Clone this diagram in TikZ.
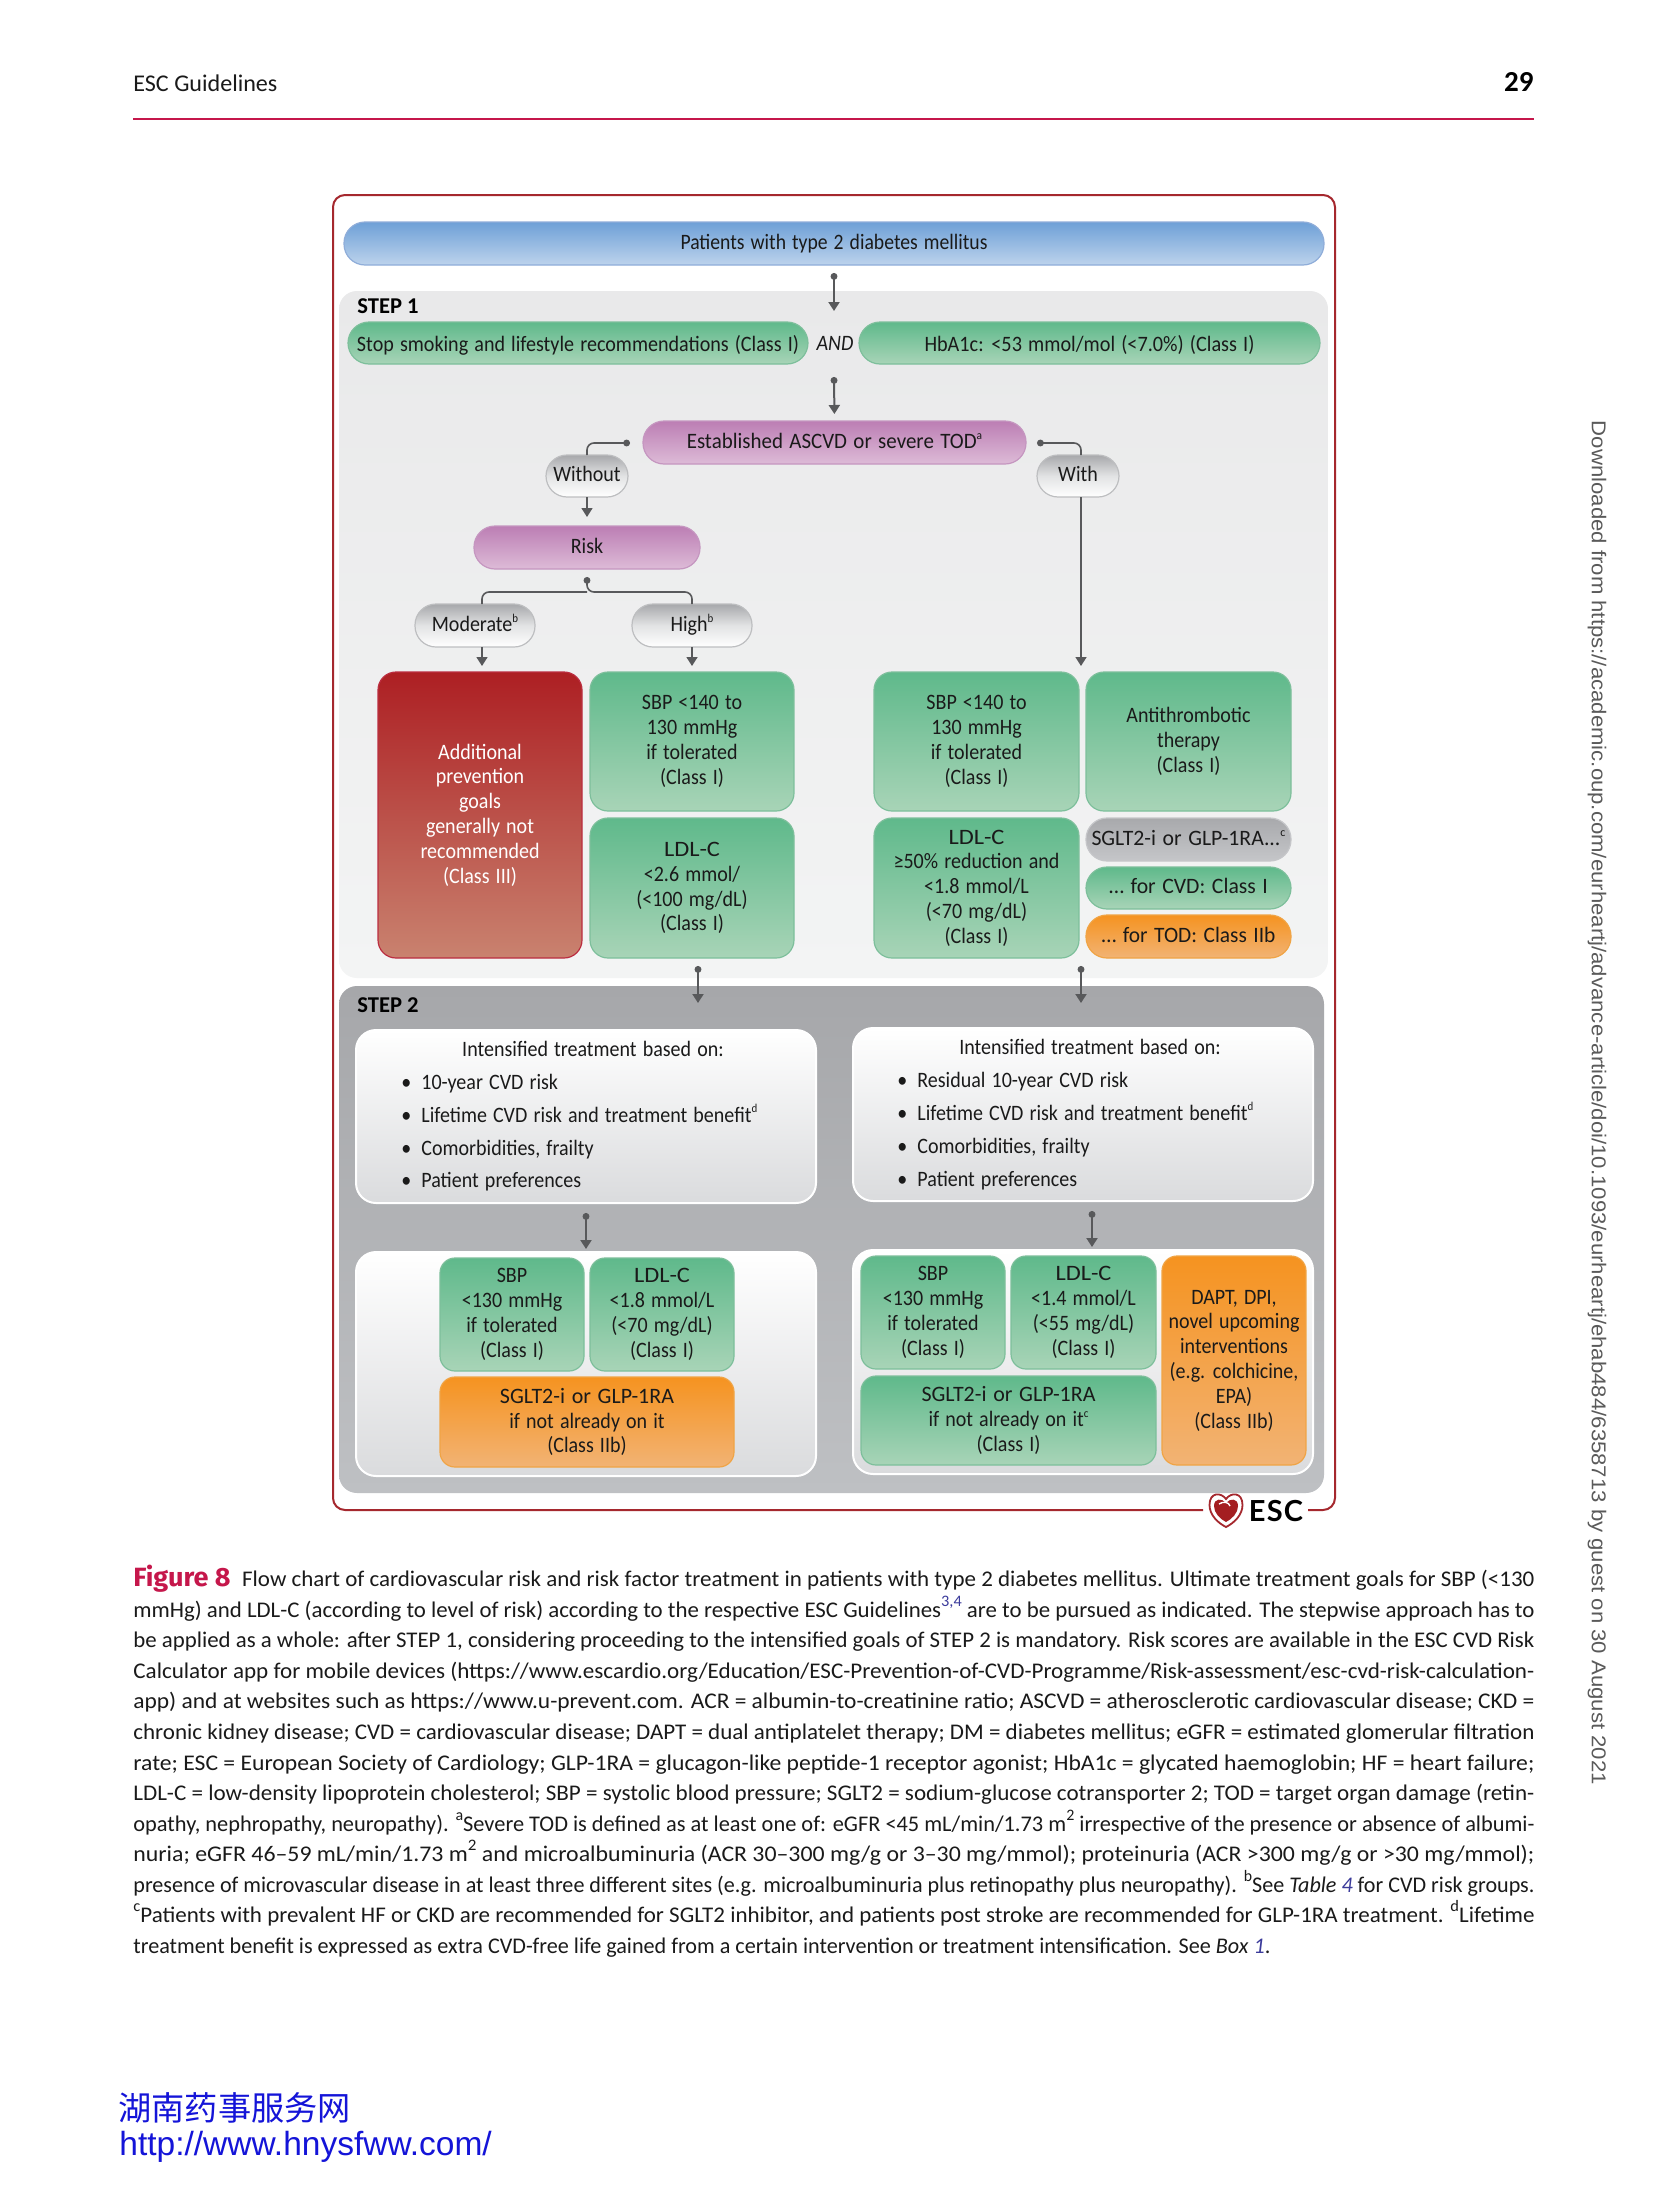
\documentclass[tikz,border=0pt]{standalone}
\usepackage{fontspec}
\usepackage{graphicx}
\usetikzlibrary{arrows.meta,calc}
\setmainfont{Carlito}
\newfontfamily\diaface{Carlito}[FakeStretch=0.91,WordSpace=1.35]
\newfontfamily\cjkfont{Noto Sans CJK SC}
\newfontfamily\arialfont{Liberation Sans}
\newfontfamily\figfont{Fira Sans}
\newfontfamily\escfont{Lato}
\definecolor{cgrey}{HTML}{58595B}
\definecolor{frame}{HTML}{A5282E}
\definecolor{crimson}{HTML}{C5174B}
\definecolor{ink}{HTML}{1A1A1A}
\definecolor{refblue}{HTML}{3B3B9B}
\definecolor{HTMLg1}{HTML}{5FB98B}
\definecolor{HTMLg2}{HTML}{A8D4B7}
\definecolor{HTMLg3}{HTML}{7DBF9B}
\definecolor{HTMLo1}{HTML}{F59320}
\definecolor{HTMLo2}{HTML}{F2B374}
\definecolor{HTMLo3}{HTML}{F0A445}
\definecolor{HTMLp1}{HTML}{BC7EB4}
\definecolor{HTMLp2}{HTML}{DDBBD7}
\definecolor{HTMLp3}{HTML}{C596C0}
\definecolor{HTMLb1}{HTML}{6EA0D7}
\definecolor{HTMLb2}{HTML}{BDD3EC}
\definecolor{HTMLb3}{HTML}{8FADD9}
\definecolor{HTMLr1}{HTML}{AD1F23}
\definecolor{HTMLr2}{HTML}{C9826F}
\definecolor{HTMLr3}{HTML}{BB2D40}
\definecolor{HTMLs1}{HTML}{A8A9AC}
\definecolor{HTMLs2}{HTML}{C5C6C9}
\definecolor{HTMLc1}{HTML}{A7A8AB}
\definecolor{HTMLc2}{HTML}{E2E3E4}
\definecolor{HTMLc3}{HTML}{BDBEC0}
\definecolor{HTMLq1}{HTML}{E9E9EA}
\definecolor{HTMLq2}{HTML}{F3F4F4}
\definecolor{HTMLt1}{HTML}{A6A7AA}
\definecolor{HTMLt2}{HTML}{BEC0C3}
\definecolor{HTMLw1}{HTML}{DADBDD}
\definecolor{HTMLu1}{HTML}{1414D8}
\definecolor{HTMLv1}{HTML}{5A5A5A}
\newcommand{\diafont}{\diaface\fontsize{11}{12.4}\selectfont}
\newcommand{\capfont}{\fontsize{11.2}{15}\selectfont}
\newcommand{\sps}[1]{\raisebox{0.42em}{\fontsize{6}{6}\selectfont #1}}
\newcommand{\csp}[1]{\raisebox{0.46em}{\fontsize{8}{8}\selectfont #1}}
\newcommand{\fitw}[2]{\resizebox{#1pt}{\height}{#2}}
\newcommand{\dbox}[7]{\node[#2, minimum width={(#5-#3)*0.5pt}, minimum height={(#6-#4)*0.5pt}] (#1) at ({(#3+#5)/2},{(#4+#6)/2}) {#7};}
\newcommand{\capl}[4]{\node[capline] (#1) at (133,#2) {\resizebox{#3pt}{\height}{#4}};}
\tikzset{
  dia/.style={shape=rectangle, inner sep=0pt, outer sep=0pt, align=center, font=\diafont, text=ink, line width=0.6pt},
  pill/.style={dia, rounded corners=10.5pt, text height=8pt, text depth=2.2pt},
  rbox/.style={dia, rounded corners=9pt},
  sbox/.style={dia, rounded corners=7.5pt},
  fgreen/.style={top color=HTMLg1, bottom color=HTMLg2, draw=HTMLg3},
  forange/.style={top color=HTMLo1, bottom color=HTMLo2, draw=HTMLo3},
  fpink/.style={top color=HTMLp1, bottom color=HTMLp2, draw=HTMLp3},
  fblue/.style={top color=HTMLb1, bottom color=HTMLb2, draw=HTMLb3},
  fred/.style={top color=HTMLr1, bottom color=HTMLr2, draw=HTMLr3, text=white},
  fgrey/.style={top color=HTMLs1, bottom color=HTMLs2, draw=HTMLs2},
  choice/.style={top color=HTMLc1, bottom color=white, middle color=HTMLc2, draw=HTMLc3},
  panelone/.style={rbox, top color=HTMLq1, bottom color=HTMLq2},
  paneltwo/.style={rbox, top color=HTMLt1, bottom color=HTMLt2},
  whitebox/.style={dia, rounded corners=10pt, top color=white, bottom color=HTMLw1, draw=white, line width=1pt},
  steplabel/.style={inner sep=0pt, anchor=base west, font=\fontsize{11.3}{13}\selectfont\bfseries, text=black},
  listtext/.style={inner sep=0pt, anchor=base west, font=\diafont, text=ink},
  listhead/.style={inner sep=0pt, anchor=base, font=\diafont, text=ink},
  conn/.style={draw=cgrey, line width=1pt, {Circle[length=3.4pt]}-{Triangle[width=5.5pt,length=4.5pt]}},
  dotline/.style={draw=cgrey, line width=0.8pt, rounded corners=3.5pt, {Circle[length=3.4pt]}-},
  plainline/.style={draw=cgrey, line width=0.8pt, rounded corners=3.5pt},
  arrowonly/.style={draw=cgrey, line width=0.8pt, -{Triangle[width=5.5pt,length=4.5pt]}},
  capline/.style={inner sep=0pt, anchor=base west, font=\capfont, text=ink},
}
\begin{document}
\begin{tikzpicture}[x=0.5pt,y=-0.5pt]
\useasboundingbox (0,0) rectangle (1654,2205);
\fill[white] (0,0) rectangle (1654,2205);

% page header
\node[inner sep=0pt, anchor=base west, font=\fontsize{12}{14}\selectfont, text=ink] (hdrl) at (133,92) {\resizebox{72pt}{\height}{ESC Guidelines}};
\node[inner sep=0pt, anchor=base east, font=\fontsize{14.5}{16}\selectfont\bfseries, text=black] (hdrr) at (1534,92) {29};
\draw[crimson, line width=1pt] (133,119) -- (1534,119);

% red frame with gap for the logo
\draw[frame, line width=1pt, rounded corners=6pt] (1203,1510) -- (333,1510) -- (333,195) -- (1335,195) -- (1335,1510) -- (1308,1510);

% panels
\dbox{panelA}{panelone}{339}{291}{1328}{978}{}
\dbox{panelB}{paneltwo}{339}{986}{1324}{1493}{}

% top bar
\dbox{patients}{pill,fblue}{344}{222}{1324}{265}{\fitw{153.5}{Patients with type 2 diabetes mellitus}}

\node[steplabel] (stepone) at (357,313) {STEP 1};
\dbox{stop}{pill,fgreen,text height=10.5pt}{348}{322}{808}{364}{\fitw{221}{Stop smoking and lifestyle recommendations (Class I)}}
\node[inner sep=0pt, font=\diafont\itshape, text=ink] (andn) at (835,343) {AND};
\dbox{hba}{pill,fgreen,text height=10.5pt}{859}{322}{1320}{364}{\fitw{165}{HbA1c: <53 mmol/mol (<7.0\%) (Class I)}}

\dbox{est}{pill,fpink}{643}{421}{1026}{464}{\fitw{147.7}{Established ASCVD or severe TOD\sps{a}}}
\dbox{without}{pill,choice}{546}{455}{628}{497}{Without}
\dbox{withn}{pill,choice}{1037}{455}{1119}{497}{With}
\dbox{risk}{pill,fpink}{474}{526}{700}{569}{Risk}
\dbox{moderate}{pill,choice}{415}{604}{535}{647}{Moderate\sps{b}}
\dbox{high}{pill,choice}{632}{604}{752}{647}{High\sps{b}}

\dbox{addit}{rbox,fred}{378}{672}{582}{958}{Additional\\prevention\\goals\\generally not\\recommended\\(Class III)}
\dbox{sbpA}{rbox,fgreen}{590}{672}{794}{811}{SBP <140 to\\130 mmHg\\if tolerated\\(Class I)}
\dbox{ldlA}{rbox,fgreen}{590}{818}{794}{958}{\fitw{28}{LDL-C}\\<2.6 mmol/\\(<100 mg/dL)\\(Class I)}
\dbox{sbpB}{rbox,fgreen}{874}{672}{1079}{811}{SBP <140 to\\130 mmHg\\if tolerated\\(Class I)}
\dbox{anti}{rbox,fgreen}{1086}{672}{1291}{811}{Antithrombotic\\therapy\\(Class I)}
\dbox{ldlB}{rbox,fgreen}{874}{818}{1079}{958}{\fitw{28}{LDL-C}\\≥50\% reduction and\\<1.8 mmol/L\\(<70 mg/dL)\\(Class I)}
\dbox{sglt}{pill,fgrey}{1086}{818}{1291}{861}{\fitw{97}{SGLT2-i or GLP-1RA...\sps{c}}}
\dbox{cvd}{pill,fgreen}{1086}{867}{1291}{909}{\fitw{79.5}{… for CVD: Class I}}
\dbox{tod}{pill,forange}{1086}{915}{1291}{958}{\fitw{87}{… for TOD: Class IIb}}

% step 2
\node[steplabel] (steptwo) at (357,1012) {STEP 2};
\dbox{basisL}{whitebox}{356}{1030}{816}{1203}{}
\dbox{basisR}{whitebox}{853}{1028}{1313}{1201}{}
\node[listhead] (hL) at (593,1056) {Intensified treatment based on:};
\node[listtext] (bL1) at (401,1089) {•};
\node[listtext] (tL1) at (421,1089) {10-year CVD risk};
\node[listtext] (bL2) at (401,1122) {•};
\node[listtext] (tL2) at (421,1122) {Lifetime CVD risk and treatment benefit\sps{d}};
\node[listtext] (bL3) at (401,1155) {•};
\node[listtext] (tL3) at (421,1155) {Comorbidities, frailty};
\node[listtext] (bL4) at (401,1187) {•};
\node[listtext] (tL4) at (421,1187) {Patient preferences};
\node[listhead] (hR) at (1090,1054) {Intensified treatment based on:};
\node[listtext] (bR1) at (897,1087) {•};
\node[listtext] (tR1) at (917,1087) {Residual 10-year CVD risk};
\node[listtext] (bR2) at (897,1120) {•};
\node[listtext] (tR2) at (917,1120) {Lifetime CVD risk and treatment benefit\sps{d}};
\node[listtext] (bR3) at (897,1153) {•};
\node[listtext] (tR3) at (917,1153) {Comorbidities, frailty};
\node[listtext] (bR4) at (897,1186) {•};
\node[listtext] (tR4) at (917,1186) {Patient preferences};

\dbox{goalsL}{whitebox}{356}{1252}{816}{1476}{}
\dbox{goalsR}{whitebox}{853}{1250}{1313}{1474}{}
\dbox{sbpC}{sbox,fgreen}{440}{1258}{584}{1371}{SBP\\<130 mmHg\\if tolerated\\(Class I)}
\dbox{ldlC}{sbox,fgreen}{590}{1258}{734}{1371}{\fitw{28}{LDL-C}\\<1.8 mmol/L\\(<70 mg/dL)\\(Class I)}
\dbox{sgltC}{sbox,forange}{440}{1377}{734}{1467}{\fitw{87}{SGLT2-i or GLP-1RA}\\if not already on it\\(Class IIb)}
\dbox{sbpD}{sbox,fgreen}{861}{1256}{1005}{1369}{SBP\\<130 mmHg\\if tolerated\\(Class I)}
\dbox{ldlD}{sbox,fgreen}{1011}{1256}{1156}{1369}{\fitw{28}{LDL-C}\\<1.4 mmol/L\\(<55 mg/dL)\\(Class I)}
\dbox{sgltD}{sbox,fgreen}{861}{1376}{1156}{1465}{\fitw{87}{SGLT2-i or GLP-1RA}\\if not already on it\sps{c}\\(Class I)}
\dbox{dapt}{sbox,forange}{1162}{1256}{1306}{1465}{DAPT, DPI,\\novel upcoming\\interventions\\(e.g. colchicine,\\EPA)\\(Class IIb)}

% free connector ends
\coordinate (a1e) at (834,311);
\coordinate (a2s) at (834,377);
\coordinate (withe) at (1081,666);
\coordinate (s2L) at (698,966);
\coordinate (s2Le) at (698,1003);
\coordinate (s2R) at (1081,966);
\coordinate (s2Re) at (1081,1003);
\coordinate (rdot) at (587,577);
\coordinate (rj) at (587,592);
\coordinate (ldot) at (630,443);
\coordinate (wdot) at (1037,443);

% connectors
\draw[conn, shorten <=4pt] (patients.south) -- (a1e);
\draw[conn, shorten >=3.5pt] (a2s) -- (est.north);
\draw[dotline] (ldot) -| (without.north);
\draw[dotline] (wdot) -| ([xshift=1.5pt]withn.north);
\draw[arrowonly, shorten >=4.5pt] (without.south) -- (risk.north);
\draw[arrowonly] ([xshift=1.5pt]withn.south) -- (withe);
\draw[dotline] (rdot) -- (rj) -- (rj -| high.north) -- (high.north);
\draw[plainline] (rj) -- ([xshift=3.5pt]rj -| moderate.north) -- ([xshift=3.5pt]moderate.north);
\draw[arrowonly, shorten >=3pt] ([xshift=3.5pt]moderate.south) -- ([xshift=3.5pt]moderate.south |- addit.north);
\draw[arrowonly, shorten >=3pt] (high.south) -- (high.south |- sbpA.north);
\draw[conn] (s2L) -- (s2Le);
\draw[conn] (s2R) -- (s2Re);
\draw[conn, shorten <=5pt, shorten >=1.5pt] (basisL.south) -- (goalsL.north);
\draw[conn, shorten <=5pt, shorten >=1.5pt] ([xshift=4.5pt]basisR.south) -- ([xshift=4.5pt]goalsR.north);

% ESC logo
\begin{scope}[shift={(1226,1510)}]
  \draw[frame, line width=0.9pt, fill=white] (0,-11) .. controls (5,-18) and (16.5,-18) .. (16.5,-5) .. controls (16.5,5) and (8,13) .. (0,17) .. controls (-8,13) and (-16.5,5) .. (-16.5,-5) .. controls (-16.5,-18) and (-5,-18) .. (0,-11) -- cycle;
  \fill[HTMLr1!95!black] (0,-7) .. controls (4,-12) and (12,-12) .. (12,-4) .. controls (12,3) and (6,9) .. (0,12) .. controls (-6,9) and (-12,3) .. (-12,-4) .. controls (-12,-12) and (-4,-12) .. (0,-7) -- cycle;
  \draw[white, line width=0.7pt] (-7,-6) .. controls (-3,-9) and (3,-8) .. (4,-4);
\end{scope}
\node[inner sep=0pt, font=\escfont\fontsize{14.5}{16}\selectfont\bfseries, text=black] (esc) at (1276,1511) {E\kern0.6pt S\kern0.6pt C};

% caption
\capl{c1}{1586}{700.5}{{\figfont\bfseries\fontsize{13.2}{15}\selectfont\textcolor{crimson}{Figure 8}}\hspace{0.5em}Flow chart of cardiovascular risk and risk factor treatment in patients with type 2 diabetes mellitus. Ultimate treatment goals for SBP (<130}
\capl{c2}{1617}{700.5}{mmHg) and LDL-C (according to level of risk) according to the respective ESC Guidelines\textcolor{refblue}{\csp{3,4}} are to be pursued as indicated. The stepwise approach has to}
\capl{c3}{1647}{700.5}{be applied as a whole: after STEP 1, considering proceeding to the intensified goals of STEP 2 is mandatory. Risk scores are available in the ESC CVD Risk}
\capl{c4}{1678}{700.5}{Calculator app for mobile devices (https://www.escardio.org/Education/ESC-Prevention-of-CVD-Programme/Risk-assessment/esc-cvd-risk-calculation-}
\capl{c5}{1708}{700.5}{app) and at websites such as https://www.u-prevent.com. ACR = albumin-to-creatinine ratio; ASCVD = atherosclerotic cardiovascular disease; CKD =}
\capl{c6}{1739}{700.5}{chronic kidney disease; CVD = cardiovascular disease; DAPT = dual antiplatelet therapy; DM = diabetes mellitus; eGFR = estimated glomerular filtration}
\capl{c7}{1770}{700.5}{rate; ESC = European Society of Cardiology; GLP-1RA = glucagon-like peptide-1 receptor agonist; HbA1c = glycated haemoglobin; HF = heart failure;}
\capl{c8}{1800}{700.5}{LDL-C = low-density lipoprotein cholesterol; SBP = systolic blood pressure; SGLT2 = sodium-glucose cotransporter 2; TOD = target organ damage (retin-}
\capl{c9}{1831}{700.5}{opathy, nephropathy, neuropathy). \csp{a}Severe TOD is defined as at least one of: eGFR <45 mL/min/1.73 m\csp{2} irrespective of the presence or absence of albumi-}
\capl{c10}{1861}{700.5}{nuria; eGFR 46–59 mL/min/1.73 m\csp{2} and microalbuminuria (ACR 30–300 mg/g or 3–30 mg/mmol); proteinuria (ACR >300 mg/g or >30 mg/mmol);}
\capl{c11}{1892}{700.5}{presence of microvascular disease in at least three different sites (e.g. microalbuminuria plus retinopathy plus neuropathy). \csp{b}See \textit{Table} \textcolor{refblue}{\textit{4}} for CVD risk groups.}
\capl{c12}{1922}{700.5}{\csp{c}Patients with prevalent HF or CKD are recommended for SGLT2 inhibitor, and patients post stroke are recommended for GLP-1RA treatment. \csp{d}Lifetime}
\capl{c13}{1953}{568.5}{treatment benefit is expressed as extra CVD-free life gained from a certain intervention or treatment intensification. See \textit{Box} \textcolor{refblue}{\textit{1}}.}

% watermark
\node[inner sep=0pt, anchor=west, font=\cjkfont\fontsize{16.6}{18}\selectfont, text=HTMLu1] (wm1) at (118,2108) {湖南药事服务网};
\node[inner sep=0pt, anchor=base west, font=\arialfont\fontsize{16.75}{18}\selectfont, text=HTMLu1] (wm2) at (119,2155) {http://www.hnysfww.com/};

% side text
\node[inner sep=0pt, rotate=-90, font=\arialfont\fontsize{10}{12}\selectfont, text=HTMLv1] (side) at (1597,1103) {\resizebox{682pt}{\height}{Downloaded from https://academic.oup.com/eurheartj/advance-article/doi/10.1093/eurheartj/ehab484/6358713 by guest on 30 August 2021}};
\end{tikzpicture}
\end{document}
